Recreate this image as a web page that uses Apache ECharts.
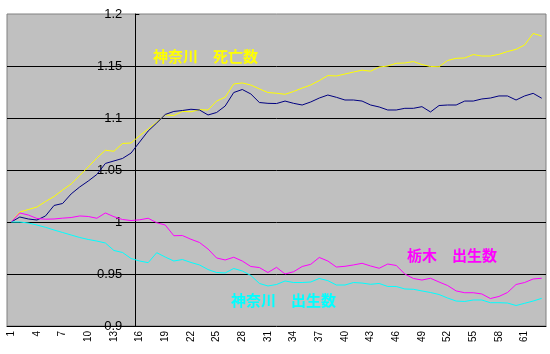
<!DOCTYPE html>
<html>
<head>
<meta charset="utf-8">
<script src="https://cdn.jsdelivr.net/npm/echarts@6/dist/echarts.min.js"></script>
<style>
  html, body { margin: 0; padding: 0; background: #fff; }
  #chart { width: 550px; height: 354px; }
</style>
</head>
<body>
<div id="chart"></div>
<script>
// カテゴリ 1〜63
const categories = []
for (let i = 1; i <= 63; i++) categories.push(String(i))

// 神奈川 死亡数（黄）
const kanagawaDeaths = [
  1.0, 1.0096, 1.012, 1.0144, 1.0197, 1.0245, 1.0308, 1.0365, 1.0447, 1.053,
  1.0615, 1.069, 1.068, 1.0755, 1.076, 1.083, 1.0894, 1.096, 1.103, 1.1024,
  1.1063, 1.106, 1.108, 1.1077, 1.1163, 1.120, 1.1327, 1.1337, 1.1317, 1.128,
  1.1245, 1.1238, 1.1228, 1.1255, 1.1288, 1.1317, 1.136, 1.1408, 1.1404, 1.1423,
  1.1442, 1.146, 1.145, 1.149, 1.15, 1.1526, 1.1529, 1.1543, 1.1514, 1.1495,
  1.1493, 1.1553, 1.1574, 1.1577, 1.161, 1.1596, 1.1596, 1.1612, 1.1639, 1.166,
  1.1702, 1.1813, 1.1788
]

// 栃木 死亡数（紺）
const tochigiDeaths = [
  1.0, 1.0048, 1.0029, 1.0019, 1.0058, 1.0159, 1.0178, 1.027, 1.0337, 1.0394,
  1.0457, 1.0563, 1.0587, 1.0611, 1.0663, 1.0769, 1.0875, 1.0952, 1.1034, 1.1063,
  1.1072, 1.1084, 1.1077, 1.1029, 1.1053, 1.1115, 1.1245, 1.1274, 1.1231, 1.1149,
  1.1141, 1.1139, 1.1163, 1.1141, 1.1125, 1.1154, 1.1192, 1.1221, 1.1199, 1.1173,
  1.1173, 1.1163, 1.1125, 1.1106, 1.1077, 1.1077, 1.1093, 1.1093, 1.1109, 1.1058,
  1.112, 1.1125, 1.1125, 1.1163, 1.1163, 1.1183, 1.1192, 1.1212, 1.1212, 1.1173,
  1.1212, 1.1237, 1.119
]

// 栃木 出生数（マゼンタ）
const tochigiBirths = [
  1.0, 1.0087, 1.0067, 1.0034, 1.0027, 1.0029, 1.0037, 1.0043, 1.0058, 1.0053,
  1.0036, 1.0087, 1.0051, 1.0024, 1.0014, 1.0021, 1.0036, 0.9993, 0.9971, 0.9868,
  0.987, 0.9834, 0.9803, 0.974, 0.9654, 0.9635, 0.9661, 0.9625, 0.9572, 0.9562,
  0.9514, 0.9564, 0.95, 0.9522, 0.9572, 0.9593, 0.9659, 0.9625, 0.9567, 0.9574,
  0.9587, 0.9603, 0.9577, 0.9555, 0.9596, 0.9582, 0.95, 0.9457, 0.9442, 0.9459,
  0.9423, 0.9389, 0.9337, 0.932, 0.932, 0.9308, 0.9264, 0.9284, 0.9322, 0.9399,
  0.9418, 0.9452, 0.9459
]

// 神奈川 出生数（シアン）
const kanagawaBirths = [
  1.0, 1.0, 0.999, 0.9971, 0.9949, 0.9923, 0.9899, 0.9875, 0.9851, 0.9832,
  0.9817, 0.9798, 0.9726, 0.9707, 0.9649, 0.9625, 0.9609, 0.9705, 0.9663, 0.9625,
  0.9639, 0.9611, 0.9587, 0.9543, 0.9514, 0.951, 0.9553, 0.9529, 0.9486, 0.9409,
  0.9385, 0.9399, 0.9433, 0.9418, 0.9418, 0.9423, 0.9457, 0.9436, 0.9394, 0.9394,
  0.9418, 0.9413, 0.9401, 0.9409, 0.938, 0.938, 0.9356, 0.9353, 0.9337, 0.9322,
  0.9303, 0.9269, 0.924, 0.9236, 0.925, 0.925, 0.9224, 0.9224, 0.9221, 0.9197,
  0.9218, 0.924, 0.9266
]

const seriesNames = ['神奈川　死亡数', '栃木　死亡数', '栃木　出生数', '神奈川　出生数']
const seriesColors = ['#FFFF00', '#000080', '#FF00FF', '#00FFFF']
const seriesData = [kanagawaDeaths, tochigiDeaths, tochigiBirths, kanagawaBirths]

const chart = echarts.init(document.getElementById('chart'))

const labelFont = 'bold 15px "Noto Sans CJK JP", sans-serif'

chart.setOption({
  animation: false,
  grid: {
    left: 7,
    right: 4,
    top: 14,
    bottom: 28,
    show: true,
    backgroundColor: '#C0C0C0',
    borderColor: '#808080',
    borderWidth: 1
  },
  xAxis: {
    type: 'category',
    data: categories,
    boundaryGap: true,
    axisLine: { lineStyle: { color: '#000', width: 1 } },
    axisTick: { inside: true, length: 3, interval: 0, lineStyle: { color: '#000' } },
    axisLabel: {
      interval: 2,
      rotate: 90,
      margin: 5,
      color: '#000',
      fontSize: 10,
      fontFamily: '"Liberation Sans", Arial, sans-serif'
    },
    splitLine: { show: false }
  },
  yAxis: {
    type: 'value',
    min: 0.9,
    max: 1.2,
    interval: 0.05,
    offset: -128.3,
    axisLine: { show: true, lineStyle: { color: '#000', width: 1 } },
    axisTick: { show: true, inside: true, length: 4, lineStyle: { color: '#000' } },
    axisLabel: {
      margin: 13,
      color: '#000',
      fontSize: 13,
      fontFamily: '"Liberation Sans", Arial, sans-serif'
    },
    splitLine: {
      show: true,
      showMinLine: false,
      showMaxLine: false,
      lineStyle: { color: '#000', width: 1 }
    }
  },
  series: seriesData.map((data, idx) => ({
    name: seriesNames[idx],
    type: 'line',
    data: data,
    symbol: 'none',
    lineStyle: { color: seriesColors[idx], width: 1 },
    itemStyle: { color: seriesColors[idx] }
  })),
  graphic: [
    {
      type: 'text', left: 153, top: 49,
      style: { text: '神奈川　死亡数', font: labelFont, fill: '#FFFF00' }
    },
    {
      type: 'text', left: 407, top: 248,
      style: { text: '栃木　出生数', font: labelFont, fill: '#FF00FF' }
    },
    {
      type: 'text', left: 231, top: 293,
      style: { text: '神奈川　出生数', font: labelFont, fill: '#00FFFF' }
    }
  ]
})

window.addEventListener('resize', () => chart.resize())
</script>
</body>
</html>
